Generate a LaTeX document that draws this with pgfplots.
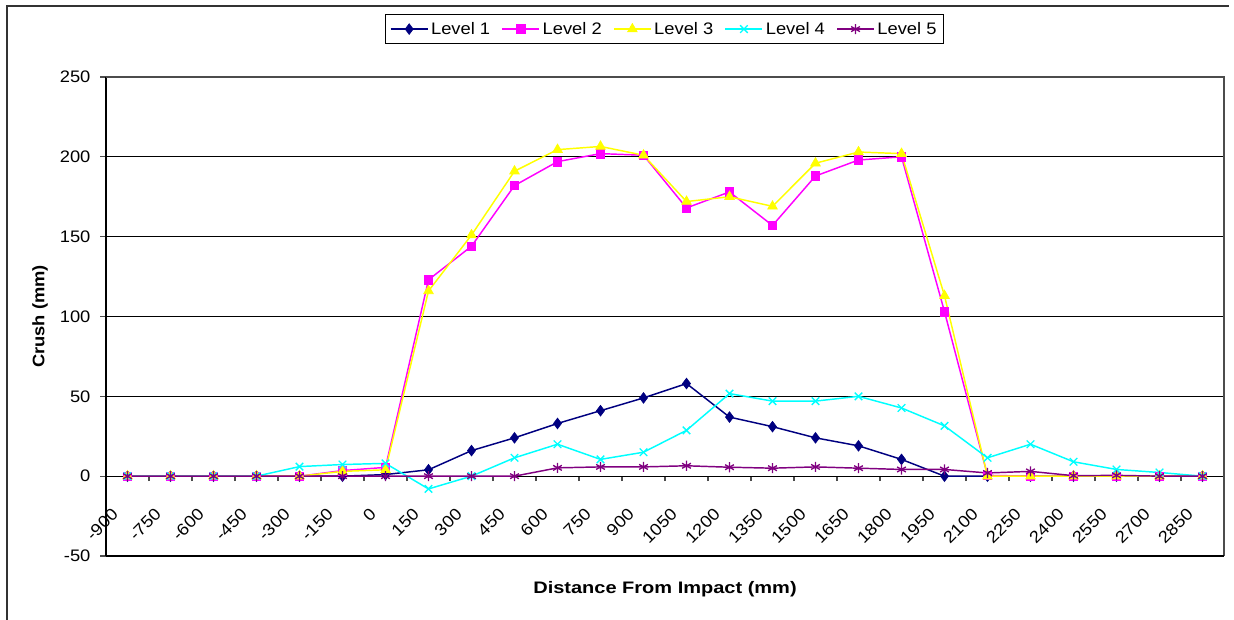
\documentclass[border=0pt]{standalone}
\usepackage{fontspec}
\setmainfont{Liberation Sans}[FakeStretch=1.1]
\usepackage{pgfplots}
\pgfplotsset{compat=1.18}
\definecolor{c1}{RGB}{0,0,128}
\definecolor{c2}{RGB}{255,0,255}
\definecolor{c3}{RGB}{255,255,0}
\definecolor{c4}{RGB}{0,255,255}
\definecolor{c5}{RGB}{128,0,128}
\begin{document}
\begin{tikzpicture}[x=0.75pt,y=0.75pt]
\useasboundingbox (0,0) rectangle (1234,620);
\draw[line width=1.1pt, black!80] (7,-20) -- (7,614) -- (1229,614);
\begin{axis}[
  at={(79.5pt,48pt)}, anchor=south west,
  scale only axis, width=838.5pt, height=359.25pt,
  xmin=-0.5, xmax=25.5, ymin=-50, ymax=250,
  axis x line=middle, axis y line=left,
  x axis line style={-, black, line width=0.8pt},
  y axis line style={-, black, line width=1.6pt},
  hide obscured x ticks=false, hide obscured y ticks=false,
  tick align=outside,
  xtick={0,...,25},
  xticklabels={-900,-750,-600,-450,-300,-150,0,150,300,450,600,750,900,1050,1200,1350,1500,1650,1800,1950,2100,2250,2400,2550,2700,2850},
  major x tick style={draw=none},
  minor xtick={-0.5,0.5,...,24.5},
  minor x tick style={black!70, line width=0.8pt},
  minor tick length=3.75pt,
  xticklabel style={font=\fontsize{12.5}{14}\selectfont, xshift=-12.5pt, yshift=-18.5pt, rotate=45, anchor=north east, inner sep=0pt},
  ytick={-50,0,50,100,150,200,250},
  yticklabels={-50,0,50,100,150,200,250},
  major y tick style={black!70, line width=0.8pt},
  major tick length=4.5pt,
  yticklabel style={font=\fontsize{12.5}{14}\selectfont, anchor=east, inner sep=0pt, xshift=-7pt},
  ymajorgrids, grid style={black, line width=0.75pt},
  ylabel={\bfseries Crush (mm)},
  ylabel style={font=\fontsize{12.5}{14}\selectfont, at={(axis description cs:-0.059,0.5)}, rotate=0, anchor=center},
  xlabel={\bfseries Distance From Impact (mm)},
  xlabel style={font=\fontsize{12.5}{14}\selectfont\addfontfeature{FakeStretch=1.2}, at={(axis description cs:0.5,-0.069)}, anchor=center},
  legend style={at={(axis description cs:0.4996,1.100)}, anchor=center, legend columns=5, draw=black, line width=0.8pt, font=\fontsize{12.5}{14}\selectfont, inner xsep=3pt, inner ysep=3.5pt, /tikz/every even column/.append style={column sep=6.5pt}},
  legend image code/.code={\draw[mark repeat=2,mark phase=2,#1] plot coordinates {(0pt,0pt) (13.9pt,0pt) (27.75pt,0pt)};},
  every axis plot/.append style={line width=1.1pt},
  clip=false,
]
\addplot[c1, mark=diamond*, mark size=4pt, mark options={solid, fill=c1, draw=c1, line width=0.5pt}] coordinates {
(0,0)(1,0)(2,0)(3,0)(4,0)(5,0)(6,1)(7,4)(8,16)(9,24)(10,33)(11,41)(12,49)(13,58)(14,37)(15,31)(16,24)(17,19)(18,10.5)(19,0)(20,0)(21,0)(22,0)(23,0)(24,0)(25,0)};
\addlegendentry{Level 1}
\addplot[c2, mark=square*, mark size=3.2pt, mark options={solid, fill=c2, draw=c2, line width=0.5pt}] coordinates {
(0,0)(1,0)(2,0)(3,0)(4,0)(5,3.5)(6,5.5)(7,123)(8,144)(9,182)(10,197)(11,202)(12,201)(13,168)(14,178)(15,157)(16,188)(17,198)(18,200)(19,103)(20,0.5)(21,0)(22,0)(23,0)(24,0)(25,0)};
\addlegendentry{Level 2}
\addplot[c3, mark=triangle*, mark size=4.2pt, mark options={solid, fill=c3, draw=c3, line width=0.5pt}] coordinates {
(0,0)(1,0)(2,0)(3,0)(4,0)(5,3)(6,4)(7,116)(8,151)(9,191)(10,204.5)(11,206.5)(12,201)(13,172)(14,175)(15,169)(16,196)(17,203)(18,202)(19,113)(20,0)(21,0)(22,0)(23,0)(24,0)(25,0)};
\addlegendentry{Level 3}
\addplot[c4, mark=x, mark size=4pt, mark options={solid, draw=c4, line width=1pt}] coordinates {
(0,0)(1,0)(2,0)(3,0)(4,6)(5,7.3)(6,8)(7,-8)(8,0)(9,11.5)(10,20)(11,10.5)(12,15)(13,28.7)(14,51.7)(15,47)(16,47)(17,50)(18,42.7)(19,31.5)(20,11.5)(21,20)(22,9)(23,4.2)(24,2.3)(25,0)};
\addlegendentry{Level 4}
\addplot[c5, mark=asterisk, mark size=3.8pt, mark options={solid, draw=c5, line width=1pt}] coordinates {
(0,0)(1,0)(2,0)(3,0)(4,0)(5,0)(6,0)(7,0)(8,0)(9,0)(10,5.2)(11,5.8)(12,5.8)(13,6.5)(14,5.6)(15,5)(16,5.8)(17,5)(18,4.2)(19,4.2)(20,2)(21,3)(22,0.3)(23,0.5)(24,0)(25,0)};
\addlegendentry{Level 5}
\draw[black!70, line width=0.8pt] (rel axis cs:0,1) -- (rel axis cs:1,1) -- (rel axis cs:1,0);
\draw[black, line width=0.9pt] (rel axis cs:0,0) -- (rel axis cs:1,0);
\end{axis}
\end{tikzpicture}
\end{document}
